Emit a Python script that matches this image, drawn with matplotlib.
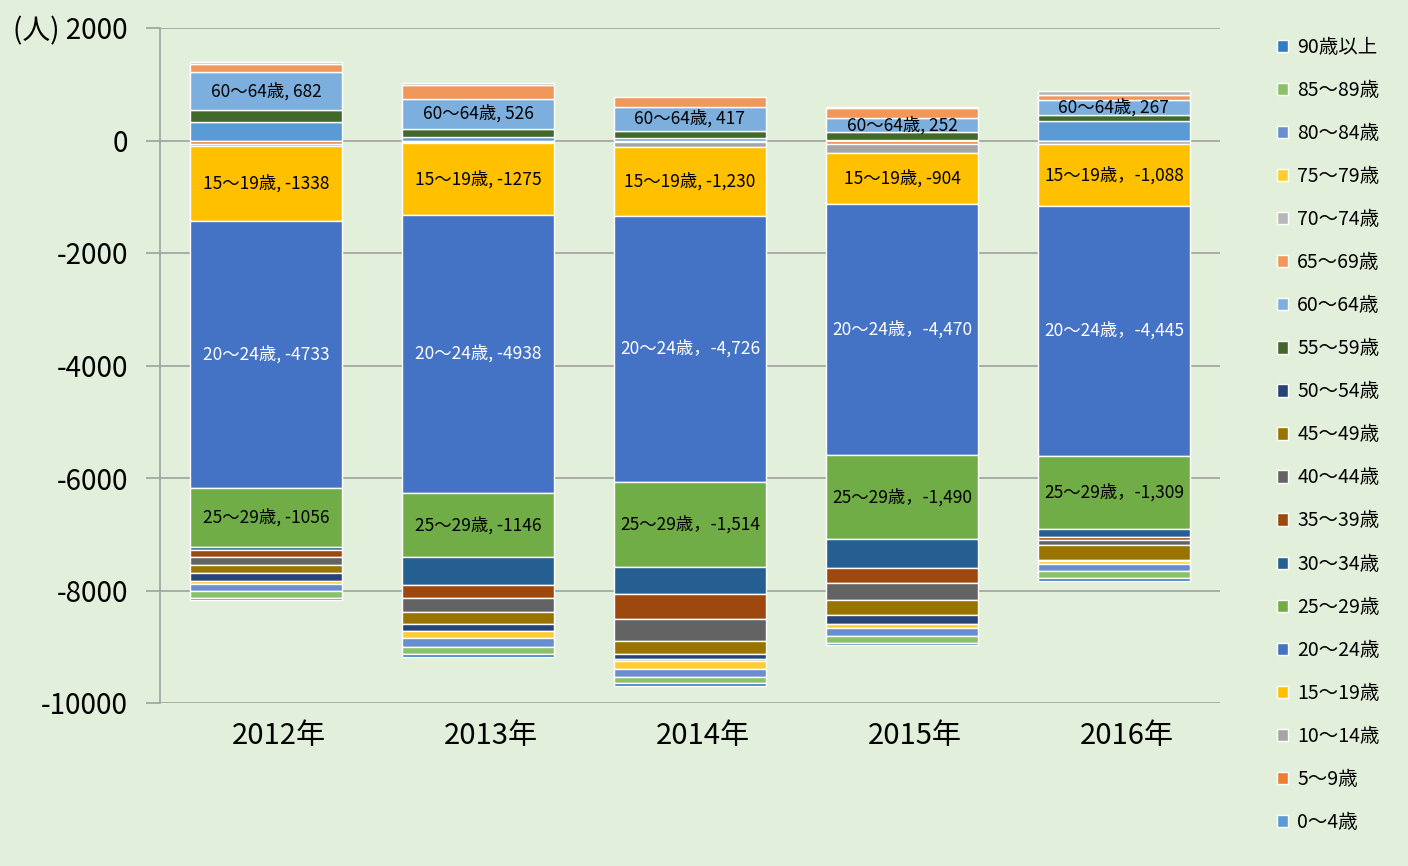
import matplotlib.pyplot as plt
from matplotlib.patches import Patch
import numpy as np

plt.rcParams['font.family'] = ['Noto Sans CJK JP', 'DejaVu Sans']

years = ['2012年', '2013年', '2014年', '2015年', '2016年']
groups = ['0～4歳', '5～9歳', '10～14歳', '15～19歳', '20～24歳', '25～29歳',
          '30～34歳', '35～39歳', '40～44歳', '45～49歳', '50～54歳', '55～59歳',
          '60～64歳', '65～69歳', '70～74歳', '75～79歳', '80～84歳', '85～89歳',
          '90歳以上']
colors = ['#5B9BD5', '#ED7D31', '#A5A5A5', '#FFC000', '#4472C4', '#70AD47',
          '#255E91', '#9E480E', '#636363', '#997300', '#264478', '#43682B',
          '#7CAFDD', '#F1975A', '#B7B7B7', '#FFCD33', '#698ED0', '#8CC168',
          '#327DC2']

# values per age group, one entry per year
v_0_4 = [330, 70, 50, 10, 350]
v_5_9 = [-55, -25, -20, -60, -15]
v_10_14 = [-45, -25, -90, -160, -55]
v_15_19 = [-1338, -1275, -1230, -904, -1088]
v_20_24 = [-4733, -4938, -4726, -4470, -4445]
v_25_29 = [-1056, -1146, -1514, -1490, -1309]
v_30_34 = [-60, -485, -490, -520, -130]
v_35_39 = [-120, -245, -440, -270, -60]
v_40_44 = [-145, -250, -390, -300, -85]
v_45_49 = [-145, -200, -225, -260, -262]
v_50_54 = [-135, -135, -85, -165, -25]
v_55_59 = [205, 140, 125, 135, 100]
v_60_64 = [682, 526, 417, 252, 267]
v_65_69 = [150, 250, 175, 185, 95]
v_70_74 = [20, 30, -50, 20, 60]
v_75_79 = [-55, -118, -130, -62, -58]
v_80_84 = [-118, -165, -155, -140, -125]
v_85_89 = [-122, -130, -95, -128, -112]
v_90 = [-45, -50, -55, -45, -58]

series = [v_0_4, v_5_9, v_10_14, v_15_19, v_20_24, v_25_29, v_30_34, v_35_39,
          v_40_44, v_45_49, v_50_54, v_55_59, v_60_64, v_65_69, v_70_74,
          v_75_79, v_80_84, v_85_89, v_90]

labels_15_19 = ['15～19歳, -1338', '15～19歳, -1275', '15～19歳, -1,230',
                '15～19歳, -904', '15～19歳，-1,088']
labels_20_24 = ['20～24歳, -4733', '20～24歳, -4938', '20～24歳，-4,726',
                '20～24歳，-4,470', '20～24歳，-4,445']
labels_25_29 = ['25～29歳, -1056', '25～29歳, -1146', '25～29歳，-1,514',
                '25～29歳，-1,490', '25～29歳，-1,309']
labels_60_64 = ['60～64歳, 682', '60～64歳, 526', '60～64歳, 417',
                '60～64歳, 252', '60～64歳, 267']
bar_labels = {3: (labels_15_19, 'black'), 4: (labels_20_24, 'white'),
              5: (labels_25_29, 'black'), 12: (labels_60_64, 'black')}

bg = '#E2EFDA'
fig = plt.figure(figsize=(14.08, 8.66), dpi=100, facecolor=bg)
ax = fig.add_axes([160 / 1408, 163 / 866, 1060 / 1408, 675 / 866])
ax.set_facecolor(bg)

x = np.arange(len(years))
width = 0.72
pos_base = np.zeros(len(years))
neg_base = np.zeros(len(years))
for i, vals in enumerate(series):
    vals = np.array(vals, dtype=float)
    bottom = np.where(vals >= 0, pos_base, neg_base)
    ax.bar(x, vals, width=width, bottom=bottom, color=colors[i],
           edgecolor='white', linewidth=1.0, zorder=3)
    if i in bar_labels:
        texts, tc = bar_labels[i]
        for j in range(len(years)):
            ax.text(x[j], bottom[j] + vals[j] / 2, texts[j], ha='center',
                    va='center', fontsize=12.5, color=tc, zorder=4)
    pos_base = pos_base + np.where(vals >= 0, vals, 0)
    neg_base = neg_base + np.where(vals < 0, vals, 0)

ax.set_ylim(-10000, 2000)
ax.set_xlim(-0.5, len(years) - 0.5)
yt = np.arange(-10000, 2001, 2000)
ax.set_yticks(yt)
ax.set_yticklabels([('(人) ' + str(v)) if v == 2000 else str(v) for v in yt],
                   fontsize=20)
# category labels sit a little right of the bar centres
ax.set_xticks(x + 0.06)
ax.set_xticklabels(years, fontsize=21)
ax.tick_params(axis='x', length=0, pad=13)
ax.tick_params(axis='y', length=10, color='#A0A0A0', width=1.2, pad=13)
ax.grid(axis='y', color='#A0A0A0', linewidth=1.2, zorder=0)
for s in ['top', 'right', 'bottom']:
    ax.spines[s].set_visible(False)
ax.spines['left'].set_color('#A0A0A0')
ax.spines['left'].set_linewidth(1.2)

handles = [Patch(facecolor=colors[i], edgecolor='white', label=groups[i])
           for i in range(len(groups))][::-1]
fig.legend(handles=handles, loc='upper left', bbox_to_anchor=(1267 / 1408, 1 - 27 / 866),
           frameon=False, fontsize=14, handlelength=0.6, handleheight=0.6,
           handletextpad=0.45, labelspacing=1.135, borderpad=0)

fig.savefig('out.png', dpi=100, facecolor=bg)
